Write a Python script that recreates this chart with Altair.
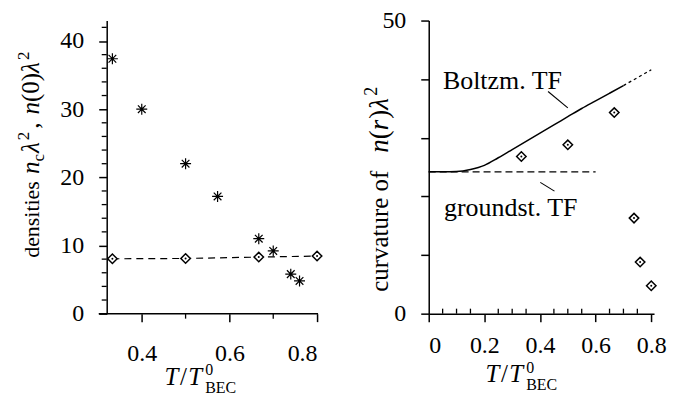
import altair as alt
import pandas as pd

FONT = "Liberation Serif"

# ---------------- data ----------------
# left panel: condensate density (stars) and central density (diamonds)
stars_T = [0.333, 0.40, 0.50, 0.573, 0.667, 0.70, 0.74, 0.76]
stars_nc = [37.4, 30.0, 22.0, 17.2, 11.0, 9.2, 5.8, 4.8]
cent_T = [0.333, 0.50, 0.667, 0.80]
cent_n0 = [8.05, 8.1, 8.3, 8.45]

# right panel: curvature of n(r) lambda^2
curv_T = [0.333, 0.50, 0.667, 0.738, 0.76, 0.80]
curv_val = [26.8, 28.8, 34.3, 16.3, 8.8, 4.75]
boltz_T = [0.0, 0.05, 0.10, 0.15, 0.20, 0.25, 0.30, 0.35, 0.40, 0.45, 0.50, 0.55, 0.60, 0.65, 0.70]
boltz_val = [24.2, 24.2, 24.25, 24.6, 25.3, 26.6, 28.0, 29.4, 30.8, 32.2, 33.6, 35.0, 36.3, 37.6, 38.9]
boltz_ext_T = [0.70, 0.80]
boltz_ext_val = [38.9, 41.6]
ground_T = [0.0, 0.60]
ground_val = [24.2, 24.2]

# annotations
boltz_label = ["Boltzm. TF"]
boltz_label_pos = [0.051, 38.4]
ground_label = ["groundst. TF"]
ground_label_pos = [0.055, 16.6]
boltz_pointer = [0.429, 37.9, 0.50, 35.1]
ground_pointer = [0.401, 22.4, 0.452, 20.9]

# ticks
left_yticks = [0, 10, 20, 30, 40]
left_yminor = [2, 4, 6, 8, 12, 14, 16, 18, 22, 24, 26, 28, 32, 34, 36, 38, 42]
left_xticks = [0.4, 0.6, 0.8]
left_xminor = [0.5, 0.7]
right_yticks = [0, 10, 20, 30, 40, 50]
right_xticks = [0.0, 0.2, 0.4, 0.6, 0.8]
right_xminor = [0.05, 0.1, 0.15, 0.25, 0.3, 0.35, 0.45, 0.5, 0.55, 0.65, 0.7, 0.75]

LW, LH = 211, 294
RW, RH = 226, 294

STAR = "M0,-1L0,1M-1,0L1,0M-0.7,-0.7L0.7,0.7M-0.7,0.7L0.7,-0.7"

lxs = alt.Scale(domain=[0.32, 0.8], nice=False, zero=False)
lys = alt.Scale(domain=[0, 43], nice=False)
rxs = alt.Scale(domain=[0, 0.81], nice=False)
rys = alt.Scale(domain=[0, 50], nice=False)

lxa = alt.Axis(values=left_xticks, format=".1f", tickSize=8, domain=False, labelPadding=20, title=None)
lya = alt.Axis(values=left_yticks, tickSize=8, labelPadding=15, title=None)
rxa = alt.Axis(values=right_xticks, labelExpr="datum.value == 0 ? '0' : format(datum.value, '.1f')",
               tickSize=8, labelPadding=12, title=None)
rya = alt.Axis(values=right_yticks, labelExpr="datum.value == 0 || datum.value == 50 ? datum.label : ''",
               tickSize=8, labelPadding=15, title=None)

one = pd.DataFrame({"k": [0]})

# glyph widths (per 1000 em) for composing titles
W_REG = {"d": 500, "e": 444, "n": 500, "s": 389, "i": 278, "t": 278, " ": 250, "c": 444,
         ",": 250, "(": 333, ")": 333, "0": 500, "u": 500, "r": 333, "v": 500, "a": 444,
         "o": 500, "f": 333, "B": 667, "E": 611, "C": 667, "2": 500, "/": 278}
W_ITA = {"n": 500, "r": 389, "T": 556, "λ": 520}


def seg_w(text, italic, size):
    table = W_ITA if italic else W_REG
    return sum(table.get(ch, 500) for ch in text) * size / 1000.0


def text_layer(text, x, y, size, italic=False, angle=0):
    kw = dict(text=text, font=FONT, fontSize=size, color="black",
              fontStyle="italic" if italic else "normal", align="left", baseline="alphabetic")
    if angle:
        kw["angle"] = angle
    return alt.Chart(one).mark_text(**kw).encode(x=alt.value(x), y=alt.value(y))


def vtitle(segs, base_x, start_y):
    out = []
    pos = start_y
    for text, italic, size, shift, gap in segs:
        out.append(text_layer(text, base_x + shift, pos, size, italic, angle=270))
        pos -= seg_w(text, italic, size) + gap
    return out


def htitle(segs, start_x, base_y):
    out = []
    pos = start_x
    for text, italic, size, shift, gap, adv in segs:
        out.append(text_layer(text, pos, base_y + shift, size, italic))
        if adv:
            pos += seg_w(text, italic, size) + gap
    return out


def anchor(x, y):
    return alt.Chart(one).mark_rule(opacity=0, strokeWidth=1).encode(
        x=alt.value(x), x2=alt.value(x + 1), y=alt.value(y))


# ---------------- left panel ----------------
stars_df = pd.DataFrame({"T": stars_T, "v": stars_nc})
cent_df = pd.DataFrame({"T": cent_T, "v": cent_n0})

L = []
L.append(alt.Chart(cent_df).mark_line(color="black", strokeWidth=1.2, strokeDash=[7, 5]).encode(
    x=alt.X("T:Q", scale=lxs, axis=lxa), y=alt.Y("v:Q", scale=lys, axis=lya)))
L.append(alt.Chart(cent_df).mark_point(shape="diamond", filled=True, fill="white", stroke="black",
                                       strokeWidth=1.5, size=90, opacity=1).encode(
    x=alt.X("T:Q", scale=lxs, axis=lxa), y=alt.Y("v:Q", scale=lys, axis=lya)))
L.append(alt.Chart(cent_df).mark_point(shape="circle", filled=True, color="black", size=4, opacity=1).encode(
    x=alt.X("T:Q", scale=lxs, axis=lxa), y=alt.Y("v:Q", scale=lys, axis=lya)))
L.append(alt.Chart(stars_df).mark_point(shape=STAR, filled=False, stroke="black", strokeWidth=1.2,
                                        size=121, opacity=1).encode(
    x=alt.X("T:Q", scale=lxs, axis=lxa), y=alt.Y("v:Q", scale=lys, axis=lya)))
# minor ticks
L.append(alt.Chart(pd.DataFrame({"v": left_yminor})).mark_rule(color="black", strokeWidth=1.3).encode(
    y=alt.Y("v:Q", scale=lys, axis=lya), x=alt.value(-5), x2=alt.value(0)))
L.append(alt.Chart(pd.DataFrame({"T": left_xminor})).mark_rule(color="black", strokeWidth=1.3).encode(
    x=alt.X("T:Q", scale=lxs, axis=lxa), y=alt.value(LH), y2=alt.value(LH + 5)))
# x-axis line, extended a little to the left
L.append(alt.Chart(one).mark_rule(color="black", strokeWidth=1.5).encode(
    x=alt.value(-8), x2=alt.value(LW + 1), y=alt.value(LH)))
# titles
L += vtitle([
    ("densities", False, 22, 0, 7),
    ("n", True, 25, 0, 0),
    ("c", False, 17, 5, 1),
    ("λ", True, 25, 0, 0),
    ("2", False, 17, -10, 3),
    (",", False, 25, 0, 8),
    ("n", True, 25, 0, 0),
    ("(0)", False, 25, 0, 0),
    ("λ", True, 25, 0, 0),
    ("2", False, 17, -10, 0),
], -67.5, 238)
L += htitle([
    ("T", True, 25, 0, 1.5, True),
    ("/", False, 25, 0, 1.5, True),
    ("T", True, 25, 0, 3, True),
    ("0", False, 16, -10, 0, False),
    ("BEC", False, 16, 8, 0, True),
], 58, 366)
L.append(anchor(-97, -8))
L.append(anchor(LW + 20, -8))

left = alt.layer(*L).properties(width=LW, height=LH)

# ---------------- right panel ----------------
curv_df = pd.DataFrame({"T": curv_T, "v": curv_val})
boltz_df = pd.DataFrame({"T": boltz_T, "v": boltz_val})
boltz_ext_df = pd.DataFrame({"T": boltz_ext_T, "v": boltz_ext_val})
ground_df = pd.DataFrame({"T": ground_T, "v": ground_val})

R = []
R.append(alt.Chart(ground_df).mark_line(color="black", strokeWidth=1.3, strokeDash=[7, 4]).encode(
    x=alt.X("T:Q", scale=rxs, axis=rxa), y=alt.Y("v:Q", scale=rys, axis=rya)))
R.append(alt.Chart(boltz_df).mark_line(color="black", strokeWidth=1.5, interpolate="monotone").encode(
    x=alt.X("T:Q", scale=rxs, axis=rxa), y=alt.Y("v:Q", scale=rys, axis=rya)))
R.append(alt.Chart(boltz_ext_df).mark_line(color="black", strokeWidth=1.3, strokeDash=[3, 3]).encode(
    x=alt.X("T:Q", scale=rxs, axis=rxa), y=alt.Y("v:Q", scale=rys, axis=rya)))
R.append(alt.Chart(curv_df).mark_point(shape="diamond", filled=True, fill="white", stroke="black",
                                       strokeWidth=1.5, size=90, opacity=1).encode(
    x=alt.X("T:Q", scale=rxs, axis=rxa), y=alt.Y("v:Q", scale=rys, axis=rya)))
R.append(alt.Chart(curv_df).mark_point(shape="circle", filled=True, color="black", size=4, opacity=1).encode(
    x=alt.X("T:Q", scale=rxs, axis=rxa), y=alt.Y("v:Q", scale=rys, axis=rya)))
# annotation labels and pointers
R.append(alt.Chart(pd.DataFrame({"t": boltz_label, "T": [boltz_label_pos[0]], "v": [boltz_label_pos[1]]}))
         .mark_text(font=FONT, fontSize=26, color="black", align="left", baseline="alphabetic").encode(
    x=alt.X("T:Q", scale=rxs, axis=rxa), y=alt.Y("v:Q", scale=rys, axis=rya), text="t:N"))
R.append(alt.Chart(pd.DataFrame({"t": ground_label, "T": [ground_label_pos[0]], "v": [ground_label_pos[1]]}))
         .mark_text(font=FONT, fontSize=26, color="black", align="left", baseline="alphabetic").encode(
    x=alt.X("T:Q", scale=rxs, axis=rxa), y=alt.Y("v:Q", scale=rys, axis=rya), text="t:N"))
ptr_df = pd.DataFrame({"x1": [boltz_pointer[0], ground_pointer[0]], "y1": [boltz_pointer[1], ground_pointer[1]],
                       "x2": [boltz_pointer[2], ground_pointer[2]], "y2": [boltz_pointer[3], ground_pointer[3]]})
R.append(alt.Chart(ptr_df).mark_rule(color="black", strokeWidth=1.1).encode(
    x=alt.X("x1:Q", scale=rxs, axis=rxa), y=alt.Y("y1:Q", scale=rys, axis=rya), x2="x2:Q", y2="y2:Q"))
# minor ticks (inward)
R.append(alt.Chart(pd.DataFrame({"T": right_xminor})).mark_rule(color="black", strokeWidth=1.3).encode(
    x=alt.X("T:Q", scale=rxs, axis=rxa), y=alt.value(RH - 5), y2=alt.value(RH)))
R += vtitle([
    ("curvature of", False, 25, 0, 18),
    ("n", True, 27, 0, 0),
    ("(", False, 27, 0, 0),
    ("r", True, 27, 0, 1),
    (")", False, 27, 0, 0),
    ("λ", True, 27, 0, 0),
    ("2", False, 18, -11, 0),
], -41, 272)
R += htitle([
    ("T", True, 25, 0, 1.5, True),
    ("/", False, 25, 0, 1.5, True),
    ("T", True, 25, 0, 3, True),
    ("0", False, 16, -9, 0, False),
    ("BEC", False, 16, 8, 0, True),
], 57, 363)
R.append(anchor(-70, -8))

right = alt.layer(*R).properties(width=RW, height=RH)

chart = alt.hconcat(left, right, spacing=21).properties(
    padding={"left": 2, "top": 0, "right": 0, "bottom": 0}
).configure_view(stroke=None).configure_axis(
    grid=False, domainColor="black", domainWidth=1.5, tickColor="black", tickWidth=1.5,
    labelFont=FONT, labelFontSize=24, labelColor="black"
)

chart.save("out.html", embed_options={"renderer": "svg", "actions": False})
